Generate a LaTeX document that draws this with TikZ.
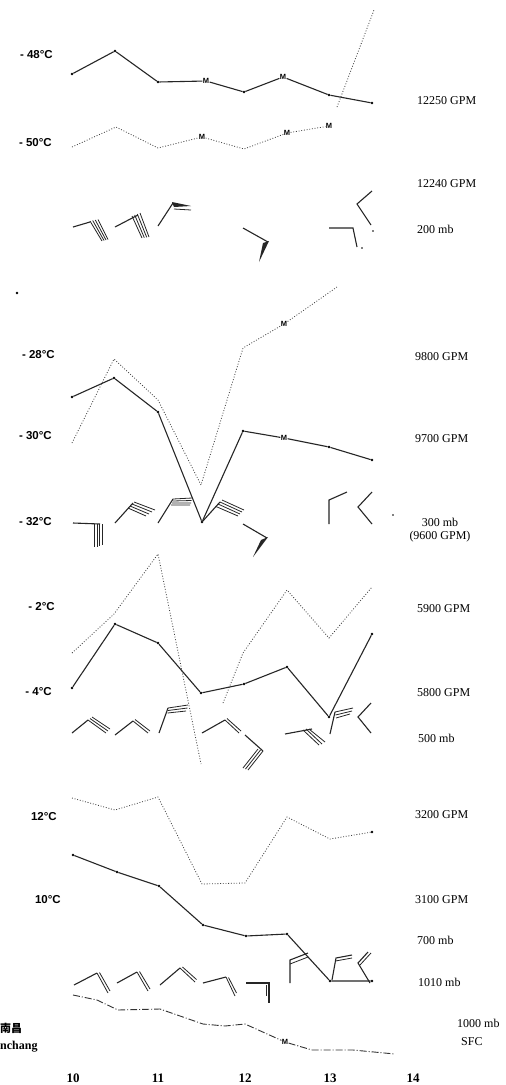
\documentclass[tikz,border=0pt]{standalone}
\usepackage{fontspec}
\setmainfont{Liberation Serif}
\setsansfont{Liberation Sans}
\newfontfamily\cjk{Noto Sans CJK SC}
\usepackage{tikz}

\begin{document}
\begin{tikzpicture}[x=1pt, y=-1pt,
			solidline/.style={line width=1.1pt, color=black!85},
			dotline/.style={dash pattern=on 0.9pt off 1.8pt, line width=0.8pt, color=black!75},
			sfcline/.style={dash pattern=on 7pt off 2pt on 1pt off 2pt, line width=0.9pt, color=black!80},
			barb/.style={line width=1.1pt, color=black!85},
			feather/.style={line width=0.8pt, color=black!85},
			dotpt/.style={circle, fill=black, inner sep=0.9pt},
			mk/.style={font=\sffamily\fontsize{7.5}{7.5}\selectfont\bfseries, inner sep=0.3pt},
			gpmlab/.style={font=\fontsize{12}{12}\selectfont, anchor=west, inner sep=0pt},
			templab/.style={font=\sffamily\fontsize{11.5}{11.5}\selectfont\bfseries, anchor=east, inner sep=0pt},
			axislab/.style={font=\fontsize{13}{13}\selectfont\bfseries, inner sep=0pt},
			]
			\path[fill=white] (0,0) rectangle (506,1085);
			%Nodes
				% 200 mb solid
				\node[dotpt]	(solA1)		at (72,74)		{};
				\node[dotpt]	(solA2)		at (115,51)		{};
				\node[dotpt]	(solA3)		at (158,82)		{};
				\node[mk]		(solA4)		at (206,81)		{M};
				\node[dotpt]	(solA5)		at (244,92)		{};
				\node[mk]		(solA6)		at (283,77)		{M};
				\node[dotpt]	(solA7)		at (329,95)		{};
				\node[dotpt]	(solA8)		at (372,103)	{};
				% 200 mb dotted
				\coordinate		(dotA1)		at (72,147);
				\coordinate		(dotA2)		at (116,127);
				\coordinate		(dotA3)		at (158,148);
				\node[mk]		(dotA4)		at (202,137)	{M};
				\coordinate		(dotA5)		at (244,149);
				\node[mk]		(dotA6)		at (287,133)	{M};
				\node[mk]		(dotA7)		at (329,126)	{M};
				\coordinate		(dotA8)		at (337,107);
				\coordinate		(dotA9)		at (374,10);
				% 300 mb solid
				\node[dotpt]	(solB1)		at (72,397)		{};
				\node[dotpt]	(solB2)		at (114,378)	{};
				\node[dotpt]	(solB3)		at (158,412)	{};
				\node[dotpt]	(solB4)		at (202,522)	{};
				\node[dotpt]	(solB5)		at (243,431)	{};
				\node[mk]		(solB6)		at (284,438)	{M};
				\node[dotpt]	(solB7)		at (329,447)	{};
				\node[dotpt]	(solB8)		at (372,460)	{};
				% 300 mb dotted
				\coordinate		(dotB1)		at (72,443);
				\coordinate		(dotB2)		at (114,359);
				\coordinate		(dotB3)		at (158,400);
				\coordinate		(dotB4)		at (201,485);
				\coordinate		(dotB5)		at (243,348);
				\node[mk]		(dotB6)		at (284,324)	{M};
				\coordinate		(dotB7)		at (337,287);
				% 500 mb solid
				\node[dotpt]	(solC1)		at (72,688)		{};
				\node[dotpt]	(solC2)		at (115,624)	{};
				\node[dotpt]	(solC3)		at (158,643)	{};
				\node[dotpt]	(solC4)		at (201,693)	{};
				\node[dotpt]	(solC5)		at (244,684)	{};
				\node[dotpt]	(solC6)		at (287,667)	{};
				\node[dotpt]	(solC7)		at (329,717)	{};
				\node[dotpt]	(solC8)		at (372,634)	{};
				% 500 mb dotted
				\coordinate		(dotC1)		at (72,653);
				\coordinate		(dotC2)		at (114,614);
				\coordinate		(dotC3)		at (158,554);
				\coordinate		(dotC4)		at (201,764);
				\coordinate		(dotC5)		at (223,703);
				\coordinate		(dotC6)		at (243,653);
				\coordinate		(dotC7)		at (287,590);
				\coordinate		(dotC8)		at (329,638);
				\coordinate		(dotC9)		at (372,587);
				% 700 mb solid
				\node[dotpt]	(solD1)		at (73,855)		{};
				\node[dotpt]	(solD2)		at (117,872)	{};
				\node[dotpt]	(solD3)		at (159,886)	{};
				\node[dotpt]	(solD4)		at (203,925)	{};
				\node[dotpt]	(solD5)		at (246,936)	{};
				\node[dotpt]	(solD6)		at (287,934)	{};
				\node[dotpt]	(solD7)		at (330,981)	{};
				\node[dotpt]	(solD8)		at (372,981)	{};
				% 700 mb dotted
				\coordinate		(dotD1)		at (72,798);
				\coordinate		(dotD2)		at (115,810);
				\coordinate		(dotD3)		at (158,797);
				\coordinate		(dotD4)		at (202,884);
				\coordinate		(dotD5)		at (245,883);
				\coordinate		(dotD6)		at (287,817);
				\coordinate		(dotD7)		at (330,839);
				\node[dotpt]	(dotD8)		at (372,832)	{};
				% surface
				\coordinate		(sfc1)		at (73,995);
				\coordinate		(sfc2)		at (97,1000);
				\coordinate		(sfc3)		at (118,1010);
				\coordinate		(sfc4)		at (160,1009);
				\coordinate		(sfc5)		at (203,1024);
				\coordinate		(sfc6)		at (225,1026);
				\coordinate		(sfc7)		at (245,1024);
				\node[mk]		(sfc8)		at (285,1042)	{M};
				\coordinate		(sfc9)		at (312,1050);
				\coordinate		(sfc10)		at (353,1050);
				\coordinate		(sfc11)		at (395,1054);

				% left labels
				\node[templab]	(tempA1)	at (53,55)		{- 48°C};
				\node[templab]	(tempA2)	at (52,143)		{- 50°C};
				\node[templab]	(tempB1)	at (55,355)		{- 28°C};
				\node[templab]	(tempB2)	at (52,436)		{- 30°C};
				\node[templab]	(tempB3)	at (52,522)		{- 32°C};
				\node[templab]	(tempC1)	at (55,607)		{- 2°C};
				\node[templab]	(tempC2)	at (52,692)		{- 4°C};
				\node[templab]	(tempD1)	at (57,817)		{12°C};
				\node[templab]	(tempD2)	at (61,900)		{10°C};
				\node[anchor=west, inner sep=0pt, font=\cjk\fontsize{11}{11}\selectfont\bfseries]	(cityzh)	at (0,1028)	{南昌};
				\node[anchor=west, inner sep=0pt, font=\fontsize{12}{12}\selectfont\bfseries]	(cityen)	at (0,1047)	{nchang};
				% right labels
				\node[gpmlab]	(gpmA1)		at (417,101)	{12250 GPM};
				\node[gpmlab]	(gpmA2)		at (417,184)	{12240 GPM};
				\node[gpmlab]	(mbA)		at (417,229)	{200 mb};
				\node[gpmlab]	(gpmB1)		at (415,357)	{9800 GPM};
				\node[gpmlab]	(gpmB2)		at (415,439)	{9700 GPM};
				\node[font=\fontsize{12}{13.5}\selectfont, align=center, inner sep=0pt]	(mbB)	at (440,530)	{300 mb\\(9600 GPM)};
				\node[gpmlab]	(gpmC1)		at (417,609)	{5900 GPM};
				\node[gpmlab]	(gpmC2)		at (417,693)	{5800 GPM};
				\node[gpmlab]	(mbC)		at (418,738)	{500 mb};
				\node[gpmlab]	(gpmD1)		at (415,815)	{3200 GPM};
				\node[gpmlab]	(gpmD2)		at (415,900)	{3100 GPM};
				\node[gpmlab]	(mbD)		at (417,940)	{700 mb};
				\node[gpmlab]	(mbE)		at (418,982)	{1010 mb};
				\node[gpmlab]	(mbF)		at (457,1023)	{1000 mb};
				\node[gpmlab]	(sfcl)		at (461,1042)	{SFC};
				% time axis
				\node[axislab]	(day10)		at (73,1078)	{10};
				\node[axislab]	(day11)		at (158,1078)	{11};
				\node[axislab]	(day12)		at (245,1078)	{12};
				\node[axislab]	(day13)		at (330,1078)	{13};
				\node[axislab]	(day14)		at (413,1078)	{14};

			%Lines
				% 200 mb
				\draw[solidline] (solA1) -- (solA2) -- (solA3) -- (solA4) -- (solA5) -- (solA6) -- (solA7) -- (solA8);
				\draw[dotline] (dotA1) -- (dotA2) -- (dotA3) -- (dotA4) -- (dotA5) -- (dotA6) -- (dotA7);
				\draw[dotline] (dotA8) -- (dotA9);
				% 300 mb
				\draw[solidline] (solB1) -- (solB2) -- (solB3) -- (solB4) -- (solB5) -- (solB6) -- (solB7) -- (solB8);
				\draw[dotline] (dotB1) -- (dotB2) -- (dotB3) -- (dotB4) -- (dotB5) -- (dotB6) -- (dotB7);
				% 500 mb
				\draw[solidline] (solC1) -- (solC2) -- (solC3) -- (solC4) -- (solC5) -- (solC6) -- (solC7) -- (solC8);
				\draw[dotline] (dotC1) -- (dotC2) -- (dotC3) -- (dotC4);
				\draw[dotline] (dotC5) -- (dotC6) -- (dotC7) -- (dotC8) -- (dotC9);
				% 700 mb
				\draw[solidline] (solD1) -- (solD2) -- (solD3) -- (solD4) -- (solD5) -- (solD6) -- (solD7) -- (solD8);
				\draw[dotline] (dotD1) -- (dotD2) -- (dotD3) -- (dotD4) -- (dotD5) -- (dotD6) -- (dotD7) -- (dotD8);
				% surface
				\draw[sfcline] (sfc1) -- (sfc2) -- (sfc3) -- (sfc4) -- (sfc5) -- (sfc6) -- (sfc7) -- (sfc8) -- (sfc9) -- (sfc10) -- (sfc11);

			%Winds
				% 200 mb
				\draw[barb] (73,227) -- (90,222);
				\draw[feather] (90,221) -- (102,241) (92.7,220.5) -- (104,240.5) (95.3,220) -- (106,240) (98,219.5) -- (108,239.5);
				\draw[barb] (115,227) -- (138,215);
				\draw[feather] (132,216) -- (142,238) (134.7,215) -- (144.3,237.7) (137.3,214) -- (146.7,237.3) (140,213) -- (149,237);
				\draw[barb] (158,226) -- (173,203);
				\fill[black!85] (172,202) -- (191,206) -- (174,207) -- cycle;
				\draw[feather] (174,209) -- (191,210);
				\draw[barb] (243,228) -- (268,242);
				\fill[black!85] (269,241) -- (263,243) -- (259,262) -- cycle;
				\draw[barb] (329,228) -- (353,228) -- (357,247);
				\draw[barb] (372,191) -- (357,204) -- (371,225);
				\fill (362,248) circle (0.8pt);
				\fill (373,231) circle (0.8pt);
				% 300 mb
				\draw[barb] (73,523) -- (100,524);
				\draw[feather] (94.5,524) -- (94.5,547) (97,524) -- (97,547) (99.5,524) -- (99.5,546) (102,524) -- (102,545);
				\draw[barb] (115,523) -- (133,503);
				\draw[feather] (128,508) -- (146,516) (130,506) -- (149,514) (132,504) -- (152,512) (134,502) -- (155,510);
				\draw[barb] (158,523) -- (173,499);
				\draw[feather] (173,499) -- (192,498) (172.5,501) -- (191.5,500.5) (172,503) -- (191,503) (171,505) -- (190,505);
				\draw[barb] (202,522) -- (220,502);
				\draw[feather] (216,506.5) -- (238,516) (218,504) -- (240,514) (220,502) -- (242,512) (222,500) -- (244,510);
				\draw[barb] (243,524) -- (267,538);
				\fill[black!85] (268,537) -- (261,540) -- (253,557) -- cycle;
				\draw[barb] (329,524) -- (329,500) -- (347,492);
				\draw[barb] (372,524) -- (358,507) -- (372,492);
				\fill (17,293) circle (1.3pt);
				\fill (393,515) circle (0.8pt);
				% 500 mb
				\draw[barb] (72,733) -- (88,720);
				\draw[feather] (88,720) -- (106,733) (90,718.5) -- (108,731) (92,717) -- (110,729);
				\draw[barb] (115,735) -- (133,721);
				\draw[feather] (133,721) -- (148,733) (135,719.5) -- (150,731);
				\draw[barb] (159,733) -- (168,708);
				\draw[feather] (168,708) -- (188,705) (168,710.5) -- (187.5,708) (167.5,713) -- (186,711);
				\draw[barb] (202,733) -- (225,720);
				\draw[feather] (225,720) -- (239,733) (227,718.5) -- (241,731);
				\draw[barb] (245,735) -- (263,751);
				\draw[feather] (263,751) -- (248,770) (260.5,750) -- (245.5,769) (258,749) -- (243,768);
				\draw[barb] (285,734) -- (312,729);
				\draw[feather] (303,730) -- (319,745) (306,729) -- (322,744) (309,729) -- (325,742);
				\draw[barb] (330,734) -- (335,712);
				\draw[feather] (335,712) -- (353,708) (335.5,715) -- (352,711) (336,718) -- (350,714);
				\draw[barb] (371,733) -- (358,717) -- (371,703);
				% 700 mb / 1010 mb
				\draw[barb] (74,985) -- (97,973);
				\draw[feather] (97,973) -- (108,993) (99.5,972.5) -- (110,991);
				\draw[barb] (117,983) -- (137,972);
				\draw[feather] (137,972) -- (148,991) (139.5,971.5) -- (150,989);
				\draw[barb] (160,985) -- (180,968);
				\draw[feather] (180,968) -- (195,982) (182.5,967) -- (196.5,979.5);
				\draw[barb] (203,983) -- (226,977);
				\draw[feather] (226,977) -- (235,996) (228.5,977.5) -- (236.5,993);
				\draw[barb] (246,983) -- (269,983) -- (269,1003);
				\draw[feather] (266,985) -- (266,996);
				\draw[barb] (290,983) -- (290,960) -- (308,953);
				\draw[feather] (290,964) -- (308,957);
				\draw[barb] (332,980) -- (336,958) -- (352,955);
				\draw[feather] (335.5,961) -- (352,958);
				\draw[barb] (370,983) -- (358,963) -- (368,952);
				\draw[feather] (360,965) -- (371,953);
		\end{tikzpicture}
\end{document}
